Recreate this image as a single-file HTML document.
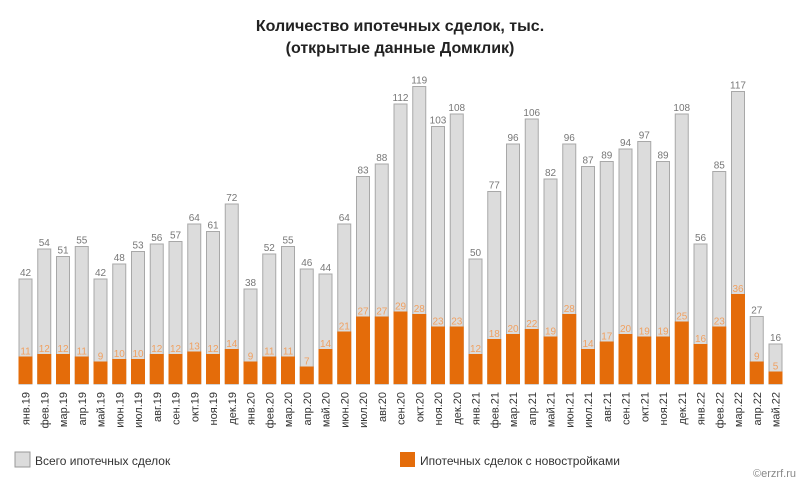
<!DOCTYPE html>
<html><head><meta charset="utf-8"><style>
body{margin:0;background:#fff;}
svg{display:block;font-family:"Liberation Sans",sans-serif;}
.t{fill:#dcdcdc;stroke:#a8a8a8;stroke-width:1}
.n{fill:#e46c0a}
.tl{font-size:10px;fill:#777;text-anchor:middle}
.nl{font-size:10px;fill:#f0a060;text-anchor:middle}
.m{font-size:11px;fill:#333;text-anchor:end}
</style></head><body>
<svg width="800" height="480" viewBox="0 0 800 480" xmlns="http://www.w3.org/2000/svg">
<rect width="800" height="480" fill="#fff"/>
<text x="400" y="31" text-anchor="middle" font-size="16" font-weight="bold" fill="#222">Количество ипотечных сделок, тыс.</text>
<text x="400" y="53" text-anchor="middle" font-size="16" font-weight="bold" fill="#222">(открытые данные Домклик)</text>

<g transform="translate(25.5,0)"><rect class="t" x="-6.5" y="279" width="13" height="105"/><rect class="n" x="-7" y="356.5" width="14" height="27.5"/><text class="tl" y="276">42</text><text class="nl" y="354.5">11</text><text class="m" transform="translate(4,392) rotate(-90)">янв.19</text></g>
<g transform="translate(44.25,0)"><rect class="t" x="-6.5" y="249" width="13" height="135"/><rect class="n" x="-7" y="354" width="14" height="30"/><text class="tl" y="246">54</text><text class="nl" y="352">12</text><text class="m" transform="translate(4,392) rotate(-90)">фев.19</text></g>
<g transform="translate(63,0)"><rect class="t" x="-6.5" y="256.5" width="13" height="127.5"/><rect class="n" x="-7" y="354" width="14" height="30"/><text class="tl" y="253.5">51</text><text class="nl" y="352">12</text><text class="m" transform="translate(4,392) rotate(-90)">мар.19</text></g>
<g transform="translate(81.75,0)"><rect class="t" x="-6.5" y="246.5" width="13" height="137.5"/><rect class="n" x="-7" y="356.5" width="14" height="27.5"/><text class="tl" y="243.5">55</text><text class="nl" y="354.5">11</text><text class="m" transform="translate(4,392) rotate(-90)">апр.19</text></g>
<g transform="translate(100.5,0)"><rect class="t" x="-6.5" y="279" width="13" height="105"/><rect class="n" x="-7" y="361.5" width="14" height="22.5"/><text class="tl" y="276">42</text><text class="nl" y="359.5">9</text><text class="m" transform="translate(4,392) rotate(-90)">май.19</text></g>
<g transform="translate(119.25,0)"><rect class="t" x="-6.5" y="264" width="13" height="120"/><rect class="n" x="-7" y="359" width="14" height="25"/><text class="tl" y="261">48</text><text class="nl" y="357">10</text><text class="m" transform="translate(4,392) rotate(-90)">июн.19</text></g>
<g transform="translate(138,0)"><rect class="t" x="-6.5" y="251.5" width="13" height="132.5"/><rect class="n" x="-7" y="359" width="14" height="25"/><text class="tl" y="248.5">53</text><text class="nl" y="357">10</text><text class="m" transform="translate(4,392) rotate(-90)">июл.19</text></g>
<g transform="translate(156.75,0)"><rect class="t" x="-6.5" y="244" width="13" height="140"/><rect class="n" x="-7" y="354" width="14" height="30"/><text class="tl" y="241">56</text><text class="nl" y="352">12</text><text class="m" transform="translate(4,392) rotate(-90)">авг.19</text></g>
<g transform="translate(175.5,0)"><rect class="t" x="-6.5" y="241.5" width="13" height="142.5"/><rect class="n" x="-7" y="354" width="14" height="30"/><text class="tl" y="238.5">57</text><text class="nl" y="352">12</text><text class="m" transform="translate(4,392) rotate(-90)">сен.19</text></g>
<g transform="translate(194.25,0)"><rect class="t" x="-6.5" y="224" width="13" height="160"/><rect class="n" x="-7" y="351.5" width="14" height="32.5"/><text class="tl" y="221">64</text><text class="nl" y="349.5">13</text><text class="m" transform="translate(4,392) rotate(-90)">окт.19</text></g>
<g transform="translate(213,0)"><rect class="t" x="-6.5" y="231.5" width="13" height="152.5"/><rect class="n" x="-7" y="354" width="14" height="30"/><text class="tl" y="228.5">61</text><text class="nl" y="352">12</text><text class="m" transform="translate(4,392) rotate(-90)">ноя.19</text></g>
<g transform="translate(231.75,0)"><rect class="t" x="-6.5" y="204" width="13" height="180"/><rect class="n" x="-7" y="349" width="14" height="35"/><text class="tl" y="201">72</text><text class="nl" y="347">14</text><text class="m" transform="translate(4,392) rotate(-90)">дек.19</text></g>
<g transform="translate(250.5,0)"><rect class="t" x="-6.5" y="289" width="13" height="95"/><rect class="n" x="-7" y="361.5" width="14" height="22.5"/><text class="tl" y="286">38</text><text class="nl" y="359.5">9</text><text class="m" transform="translate(4,392) rotate(-90)">янв.20</text></g>
<g transform="translate(269.25,0)"><rect class="t" x="-6.5" y="254" width="13" height="130"/><rect class="n" x="-7" y="356.5" width="14" height="27.5"/><text class="tl" y="251">52</text><text class="nl" y="354.5">11</text><text class="m" transform="translate(4,392) rotate(-90)">фев.20</text></g>
<g transform="translate(288,0)"><rect class="t" x="-6.5" y="246.5" width="13" height="137.5"/><rect class="n" x="-7" y="356.5" width="14" height="27.5"/><text class="tl" y="243.5">55</text><text class="nl" y="354.5">11</text><text class="m" transform="translate(4,392) rotate(-90)">мар.20</text></g>
<g transform="translate(306.75,0)"><rect class="t" x="-6.5" y="269" width="13" height="115"/><rect class="n" x="-7" y="366.5" width="14" height="17.5"/><text class="tl" y="266">46</text><text class="nl" y="364.5">7</text><text class="m" transform="translate(4,392) rotate(-90)">апр.20</text></g>
<g transform="translate(325.5,0)"><rect class="t" x="-6.5" y="274" width="13" height="110"/><rect class="n" x="-7" y="349" width="14" height="35"/><text class="tl" y="271">44</text><text class="nl" y="347">14</text><text class="m" transform="translate(4,392) rotate(-90)">май.20</text></g>
<g transform="translate(344.25,0)"><rect class="t" x="-6.5" y="224" width="13" height="160"/><rect class="n" x="-7" y="331.5" width="14" height="52.5"/><text class="tl" y="221">64</text><text class="nl" y="329.5">21</text><text class="m" transform="translate(4,392) rotate(-90)">июн.20</text></g>
<g transform="translate(363,0)"><rect class="t" x="-6.5" y="176.5" width="13" height="207.5"/><rect class="n" x="-7" y="316.5" width="14" height="67.5"/><text class="tl" y="173.5">83</text><text class="nl" y="314.5">27</text><text class="m" transform="translate(4,392) rotate(-90)">июл.20</text></g>
<g transform="translate(381.75,0)"><rect class="t" x="-6.5" y="164" width="13" height="220"/><rect class="n" x="-7" y="316.5" width="14" height="67.5"/><text class="tl" y="161">88</text><text class="nl" y="314.5">27</text><text class="m" transform="translate(4,392) rotate(-90)">авг.20</text></g>
<g transform="translate(400.5,0)"><rect class="t" x="-6.5" y="104" width="13" height="280"/><rect class="n" x="-7" y="311.5" width="14" height="72.5"/><text class="tl" y="101">112</text><text class="nl" y="309.5">29</text><text class="m" transform="translate(4,392) rotate(-90)">сен.20</text></g>
<g transform="translate(419.25,0)"><rect class="t" x="-6.5" y="86.5" width="13" height="297.5"/><rect class="n" x="-7" y="314" width="14" height="70"/><text class="tl" y="83.5">119</text><text class="nl" y="312">28</text><text class="m" transform="translate(4,392) rotate(-90)">окт.20</text></g>
<g transform="translate(438,0)"><rect class="t" x="-6.5" y="126.5" width="13" height="257.5"/><rect class="n" x="-7" y="326.5" width="14" height="57.5"/><text class="tl" y="123.5">103</text><text class="nl" y="324.5">23</text><text class="m" transform="translate(4,392) rotate(-90)">ноя.20</text></g>
<g transform="translate(456.75,0)"><rect class="t" x="-6.5" y="114" width="13" height="270"/><rect class="n" x="-7" y="326.5" width="14" height="57.5"/><text class="tl" y="111">108</text><text class="nl" y="324.5">23</text><text class="m" transform="translate(4,392) rotate(-90)">дек.20</text></g>
<g transform="translate(475.5,0)"><rect class="t" x="-6.5" y="259" width="13" height="125"/><rect class="n" x="-7" y="354" width="14" height="30"/><text class="tl" y="256">50</text><text class="nl" y="352">12</text><text class="m" transform="translate(4,392) rotate(-90)">янв.21</text></g>
<g transform="translate(494.25,0)"><rect class="t" x="-6.5" y="191.5" width="13" height="192.5"/><rect class="n" x="-7" y="339" width="14" height="45"/><text class="tl" y="188.5">77</text><text class="nl" y="337">18</text><text class="m" transform="translate(4,392) rotate(-90)">фев.21</text></g>
<g transform="translate(513,0)"><rect class="t" x="-6.5" y="144" width="13" height="240"/><rect class="n" x="-7" y="334" width="14" height="50"/><text class="tl" y="141">96</text><text class="nl" y="332">20</text><text class="m" transform="translate(4,392) rotate(-90)">мар.21</text></g>
<g transform="translate(531.75,0)"><rect class="t" x="-6.5" y="119" width="13" height="265"/><rect class="n" x="-7" y="329" width="14" height="55"/><text class="tl" y="116">106</text><text class="nl" y="327">22</text><text class="m" transform="translate(4,392) rotate(-90)">апр.21</text></g>
<g transform="translate(550.5,0)"><rect class="t" x="-6.5" y="179" width="13" height="205"/><rect class="n" x="-7" y="336.5" width="14" height="47.5"/><text class="tl" y="176">82</text><text class="nl" y="334.5">19</text><text class="m" transform="translate(4,392) rotate(-90)">май.21</text></g>
<g transform="translate(569.25,0)"><rect class="t" x="-6.5" y="144" width="13" height="240"/><rect class="n" x="-7" y="314" width="14" height="70"/><text class="tl" y="141">96</text><text class="nl" y="312">28</text><text class="m" transform="translate(4,392) rotate(-90)">июн.21</text></g>
<g transform="translate(588,0)"><rect class="t" x="-6.5" y="166.5" width="13" height="217.5"/><rect class="n" x="-7" y="349" width="14" height="35"/><text class="tl" y="163.5">87</text><text class="nl" y="347">14</text><text class="m" transform="translate(4,392) rotate(-90)">июл.21</text></g>
<g transform="translate(606.75,0)"><rect class="t" x="-6.5" y="161.5" width="13" height="222.5"/><rect class="n" x="-7" y="341.5" width="14" height="42.5"/><text class="tl" y="158.5">89</text><text class="nl" y="339.5">17</text><text class="m" transform="translate(4,392) rotate(-90)">авг.21</text></g>
<g transform="translate(625.5,0)"><rect class="t" x="-6.5" y="149" width="13" height="235"/><rect class="n" x="-7" y="334" width="14" height="50"/><text class="tl" y="146">94</text><text class="nl" y="332">20</text><text class="m" transform="translate(4,392) rotate(-90)">сен.21</text></g>
<g transform="translate(644.25,0)"><rect class="t" x="-6.5" y="141.5" width="13" height="242.5"/><rect class="n" x="-7" y="336.5" width="14" height="47.5"/><text class="tl" y="138.5">97</text><text class="nl" y="334.5">19</text><text class="m" transform="translate(4,392) rotate(-90)">окт.21</text></g>
<g transform="translate(663,0)"><rect class="t" x="-6.5" y="161.5" width="13" height="222.5"/><rect class="n" x="-7" y="336.5" width="14" height="47.5"/><text class="tl" y="158.5">89</text><text class="nl" y="334.5">19</text><text class="m" transform="translate(4,392) rotate(-90)">ноя.21</text></g>
<g transform="translate(681.75,0)"><rect class="t" x="-6.5" y="114" width="13" height="270"/><rect class="n" x="-7" y="321.5" width="14" height="62.5"/><text class="tl" y="111">108</text><text class="nl" y="319.5">25</text><text class="m" transform="translate(4,392) rotate(-90)">дек.21</text></g>
<g transform="translate(700.5,0)"><rect class="t" x="-6.5" y="244" width="13" height="140"/><rect class="n" x="-7" y="344" width="14" height="40"/><text class="tl" y="241">56</text><text class="nl" y="342">16</text><text class="m" transform="translate(4,392) rotate(-90)">янв.22</text></g>
<g transform="translate(719.25,0)"><rect class="t" x="-6.5" y="171.5" width="13" height="212.5"/><rect class="n" x="-7" y="326.5" width="14" height="57.5"/><text class="tl" y="168.5">85</text><text class="nl" y="324.5">23</text><text class="m" transform="translate(4,392) rotate(-90)">фев.22</text></g>
<g transform="translate(738,0)"><rect class="t" x="-6.5" y="91.5" width="13" height="292.5"/><rect class="n" x="-7" y="294" width="14" height="90"/><text class="tl" y="88.5">117</text><text class="nl" y="292">36</text><text class="m" transform="translate(4,392) rotate(-90)">мар.22</text></g>
<g transform="translate(756.75,0)"><rect class="t" x="-6.5" y="316.5" width="13" height="67.5"/><rect class="n" x="-7" y="361.5" width="14" height="22.5"/><text class="tl" y="313.5">27</text><text class="nl" y="359.5">9</text><text class="m" transform="translate(4,392) rotate(-90)">апр.22</text></g>
<g transform="translate(775.5,0)"><rect class="t" x="-6.5" y="344" width="13" height="40"/><rect class="n" x="-7" y="371.5" width="14" height="12.5"/><text class="tl" y="341">16</text><text class="nl" y="369.5">5</text><text class="m" transform="translate(4,392) rotate(-90)">май.22</text></g>

<rect x="15" y="452" width="15" height="15" fill="#dcdcdc" stroke="#999"/>
<text x="35" y="465" font-size="12" fill="#333">Всего ипотечных сделок</text>
<rect x="400" y="452" width="15" height="15" fill="#e46c0a"/>
<text x="420" y="465" font-size="12" fill="#333">Ипотечных сделок с новостройками</text>
<text x="796" y="477" text-anchor="end" font-size="11" fill="#888">©erzrf.ru</text>
</svg>
</body></html>
